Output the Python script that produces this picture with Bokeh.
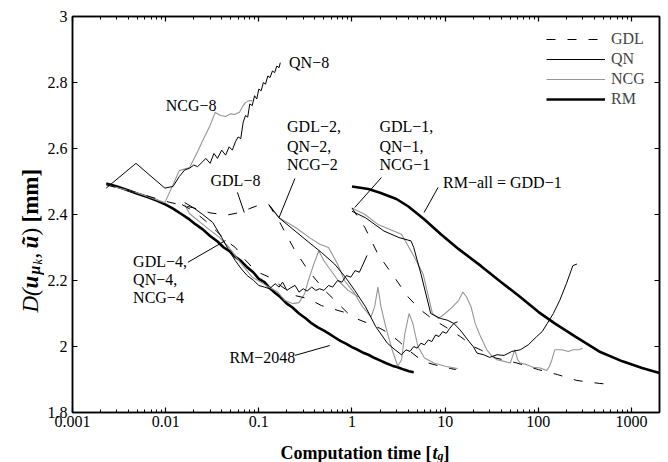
import math
from bokeh.plotting import figure
from bokeh.layouts import row, column
from bokeh.models import (FixedTicker, LogAxis, LinearAxis, Label, Legend, LegendItem,
                          CustomJSTickFormatter, Range1d)
from bokeh.embed import file_html
from bokeh.resources import INLINE

FONT = "Liberation Serif"
GRAY = "#969696"

# ---------------- axis ticks ----------------
x_ticks = [0.001, 0.01, 0.1, 1, 10, 100, 1000]
x_tick_labels = ["0.001", "0.01", "0.1", "1", "10", "100", "1000"]
x_minor = [m * 10.0 ** e for e in range(-3, 4) for m in range(2, 10) if m * 10.0 ** e <= 2000]
y_ticks = [1.8, 2.0, 2.2, 2.4, 2.6, 2.8, 3.0]
y_tick_labels = ["1.8", "2", "2.2", "2.4", "2.6", "2.8", "3"]

# ---------------- series (time [t_g], distance [mm]) ----------------
rm_all_t = [1, 1.5, 2, 3, 4, 6, 9, 14, 24, 40, 64, 100, 150, 250, 450, 800, 1300, 2000]
rm_all_y = [2.485, 2.477, 2.466, 2.447, 2.425, 2.385, 2.34, 2.295, 2.245, 2.195, 2.15, 2.105,
            2.07, 2.03, 1.985, 1.955, 1.935, 1.92]

rm2048_t = [0.0023, 0.003, 0.004, 0.005, 0.0065, 0.008, 0.01, 0.012, 0.015, 0.018, 0.021, 0.025,
            0.03, 0.036, 0.042, 0.048, 0.056, 0.065, 0.075, 0.087, 0.1, 0.115, 0.13, 0.15, 0.17,
            0.2, 0.23, 0.27, 0.32, 0.37, 0.43, 0.5, 0.56, 0.65, 0.75, 0.87, 1.0, 1.15, 1.3, 1.5,
            1.75, 2.0, 2.3, 2.7, 3.1, 3.6, 4.1, 4.6]
rm2048_y = [2.494, 2.485, 2.473, 2.463, 2.452, 2.442, 2.43, 2.418, 2.40, 2.385, 2.37, 2.355,
            2.335, 2.318, 2.30, 2.29, 2.272, 2.258, 2.24, 2.225, 2.205, 2.195, 2.178, 2.162, 2.15,
            2.13, 2.118, 2.10, 2.085, 2.07, 2.058, 2.048, 2.04, 2.028, 2.017, 2.008, 1.998, 1.99,
            1.982, 1.975, 1.965, 1.958, 1.95, 1.942, 1.937, 1.93, 1.925, 1.922]

qn8_t = [0.0023, 0.0048, 0.0098, 0.012, 0.014, 0.016, 0.018, 0.02, 0.022, 0.025, 0.027, 0.03,
         0.033, 0.036, 0.04, 0.044, 0.048, 0.052, 0.056, 0.06, 0.064, 0.068, 0.072, 0.076, 0.08,
         0.085, 0.09, 0.095, 0.1, 0.106, 0.112, 0.118, 0.125, 0.132, 0.14, 0.148, 0.156, 0.165, 0.17]
qn8_y = [2.48, 2.555, 2.48, 2.485, 2.515, 2.535, 2.54, 2.55, 2.545, 2.56, 2.57, 2.555, 2.585, 2.57,
         2.595, 2.58, 2.605, 2.595, 2.62, 2.635, 2.63, 2.68, 2.70, 2.695, 2.735, 2.73, 2.76, 2.75,
         2.78, 2.775, 2.80, 2.795, 2.82, 2.815, 2.835, 2.83, 2.85, 2.845, 2.86]

ncg8_t = [0.0023, 0.005, 0.0098, 0.012, 0.014, 0.018, 0.022, 0.025, 0.03, 0.034, 0.039, 0.044,
          0.05, 0.055, 0.062, 0.068, 0.072, 0.078, 0.085]
ncg8_y = [2.49, 2.465, 2.436, 2.49, 2.533, 2.542, 2.59, 2.624, 2.67, 2.709, 2.70, 2.697, 2.705,
          2.703, 2.71, 2.73, 2.739, 2.745, 2.745]

gdl8_t = [0.0023, 0.005, 0.01, 0.015, 0.02, 0.03, 0.045, 0.06, 0.08, 0.11]
gdl8_y = [2.49, 2.465, 2.44, 2.428, 2.42, 2.405, 2.398, 2.405, 2.418, 2.433]

qn4_t = [0.016, 0.02, 0.025, 0.032, 0.04, 0.048, 0.056, 0.065, 0.075, 0.088, 0.1, 0.115, 0.13,
         0.15, 0.165, 0.18, 0.2, 0.22, 0.245, 0.27, 0.3, 0.33, 0.37, 0.41, 0.45, 0.5, 0.56, 0.62,
         0.7, 0.78, 0.87, 0.97, 1.08, 1.2, 1.32, 1.45]
qn4_y = [2.436, 2.42, 2.40, 2.376, 2.33, 2.29, 2.26, 2.235, 2.215, 2.20, 2.185, 2.18, 2.175, 2.19,
         2.18, 2.195, 2.17, 2.178, 2.185, 2.165, 2.175, 2.168, 2.18, 2.17, 2.175, 2.17, 2.185, 2.18,
         2.2, 2.195, 2.215, 2.21, 2.23, 2.225, 2.25, 2.276]

ncg4_t = [0.016, 0.018, 0.025, 0.038, 0.048, 0.065, 0.085, 0.105, 0.128, 0.16, 0.19, 0.23, 0.27,
          0.31, 0.34, 0.39, 0.44, 0.5, 0.56, 0.71, 0.91, 1.17]
ncg4_y = [2.43, 2.403, 2.37, 2.33, 2.30, 2.25, 2.21, 2.195, 2.18, 2.165, 2.14, 2.13, 2.133, 2.16,
          2.2, 2.25, 2.29, 2.26, 2.24, 2.2, 2.17, 2.15]

gdl4_t = [0.015, 0.02, 0.027, 0.035, 0.045, 0.056, 0.07, 0.085, 0.1, 0.13, 0.17, 0.24, 0.34, 0.47,
          0.6, 0.8, 1.0]
gdl4_y = [2.43, 2.41, 2.38, 2.35, 2.32, 2.30, 2.265, 2.24, 2.224, 2.21, 2.185, 2.155, 2.145, 2.124,
          2.115, 2.105, 2.095]

qn2_t = [0.128, 0.165, 0.245, 0.33, 0.47, 0.65, 0.85, 1.07, 1.4, 1.8, 2.4, 2.9, 3.4, 3.8, 4.2, 4.6,
         5.0, 5.5, 6.0, 6.6, 7.2, 7.9, 8.6, 9.4, 10.3, 11.2, 12.4, 13.6]
qn2_y = [2.43, 2.39, 2.35, 2.32, 2.285, 2.25, 2.21, 2.17, 2.12, 2.06, 2.01, 1.99, 1.975, 1.99,
         1.985, 2.0, 1.995, 2.01, 2.005, 2.02, 2.015, 2.035, 2.03, 2.045, 2.04, 2.055, 2.07, 2.075]

gdl2_t = [0.128, 0.165, 0.245, 0.34, 0.51, 0.71, 0.91, 1.1, 1.5, 2.0, 2.5, 3.2, 4.0, 5.2, 6.6, 8.9,
          11.5, 13]
gdl2_y = [2.43, 2.38, 2.29, 2.23, 2.17, 2.13, 2.10, 2.085, 2.07, 2.055, 2.04, 2.015, 1.99, 1.965,
          1.95, 1.94, 1.933, 1.93]

ncg2_t = [0.128, 0.165, 0.25, 0.35, 0.45, 0.56, 0.7, 0.83, 1.07, 1.3, 1.6, 1.75, 1.9, 2.05, 2.3,
          2.7, 3.1, 3.4, 3.7, 4.1, 4.5, 5.1, 6.0, 7.6, 10, 13.6]
ncg2_y = [2.43, 2.39, 2.36, 2.33, 2.31, 2.30, 2.25, 2.20, 2.16, 2.12, 2.09, 2.12, 2.18, 2.12, 2.06,
          1.99, 1.94, 1.96, 2.04, 2.10, 2.07, 2.0, 1.965, 1.95, 1.94, 1.933]

qn1_t = [1.0, 1.4, 2.2, 3.2, 4.3, 4.6, 5.5, 7.0, 8.9, 10.5, 12.4, 14.5, 17.5, 20, 22, 26, 30, 36,
         43, 52, 64, 78, 96, 110, 125, 145, 170, 200, 235, 260]
qn1_y = [2.41, 2.39, 2.35, 2.33, 2.32, 2.30, 2.22, 2.10, 2.085, 2.08, 2.07, 2.05, 2.02, 2.0, 1.98,
         1.975, 1.967, 1.975, 1.973, 1.985, 1.99, 2.005, 2.03, 2.045, 2.07, 2.1, 2.14, 2.19, 2.245,
         2.25]

gdl1_t = [1.0, 1.38, 1.9, 2.85, 4.0, 5.5, 7.6, 10, 14.6, 20, 24, 35, 59, 100, 160, 260, 458, 620]
gdl1_y = [2.42, 2.36, 2.28, 2.21, 2.15, 2.11, 2.08, 2.06, 2.03, 2.0, 1.99, 1.965, 1.95, 1.93,
          1.915, 1.897, 1.888, 1.885]

ncg1_t = [1.0, 1.38, 1.9, 3.4, 4.7, 5.8, 7.3, 8.5, 10, 12, 14, 15.5, 17, 19, 21, 24, 28, 32, 36,
          43, 50, 53, 56, 60, 64, 75, 88, 105, 123, 132, 140, 150, 180, 210, 235, 270, 300]
ncg1_y = [2.42, 2.40, 2.37, 2.34, 2.27, 2.22, 2.10, 2.085, 2.10, 2.12, 2.14, 2.165, 2.15, 2.12,
          2.07, 2.03, 1.99, 1.97, 1.96, 1.955, 1.95, 1.97, 1.99, 1.96, 1.95, 1.945, 1.937, 1.935,
          1.927, 1.94, 1.96, 1.99, 1.99, 1.985, 1.99, 1.99, 1.995]

# ---------------- annotations ----------------
ann_text = ["QN\u22128", "NCG\u22128", "GDL\u22128",
            "GDL\u22122,", "QN\u22122,", "NCG\u22122",
            "GDL\u22121,", "QN\u22121,", "NCG\u22121",
            "GDL\u22124,", "QN\u22124,", "NCG\u22124",
            "RM\u22122048", "RM\u2212all = GDD\u22121"]
ann_t = [0.211, 0.01, 0.0303, 0.201, 0.201, 0.201, 1.97, 1.97, 1.97,
         0.00447, 0.00447, 0.00447, 0.0483, 9.5]
ann_y = [2.861, 2.730, 2.503, 2.667, 2.606, 2.552, 2.667, 2.606, 2.552,
         2.258, 2.203, 2.148, 1.967, 2.497]

ptr_t0 = [0.0589, 0.244, 2.07, 8.4, 0.0173, 0.244]
ptr_y0 = [2.467, 2.509, 2.512, 2.482, 2.255, 1.973]
ptr_t1 = [0.0698, 0.165, 1.07, 5.94, 0.0439, 0.577]
ptr_y1 = [2.406, 2.391, 2.421, 2.406, 2.321, 2.003]

# ---------------- main figure ----------------
p = figure(width=624, height=434, x_axis_type="log", x_range=(0.001, 2000), y_range=(1.8, 3.0),
           output_backend="svg", toolbar_location=None,
           min_border_left=25, min_border_right=9, min_border_top=16, min_border_bottom=22)
p.grid.visible = False
p.outline_line_color = "black"
p.outline_line_width = 1.5

x_fmt = CustomJSTickFormatter(args=dict(xvals=x_ticks, xlabs=x_tick_labels), code="""
const i = xvals.findIndex(t => Math.abs(Math.log10(t) - Math.log10(tick)) < 1e-6);
return i >= 0 ? xlabs[i] : "";""")
y_fmt = CustomJSTickFormatter(args=dict(yvals=y_ticks, ylabs=y_tick_labels), code="""
const i = yvals.findIndex(t => Math.abs(t - tick) < 1e-6);
return i >= 0 ? ylabs[i] : "";""")


def style_axis(ax, minor=True, labels=True):
    ax.axis_line_width = 1.5
    ax.axis_line_color = "black"
    ax.major_tick_in = 5
    ax.major_tick_out = 0
    ax.major_tick_line_width = 1.2
    ax.minor_tick_in = 3 if minor else 0
    ax.minor_tick_out = 0
    ax.major_label_text_font = FONT
    ax.major_label_text_font_size = "16px" if labels else "8px"
    ax.major_label_text_color = "black"
    ax.major_label_standoff = 3 if labels else 0


p.xaxis[0].ticker = FixedTicker(ticks=x_ticks, minor_ticks=x_minor)
p.xaxis[0].formatter = x_fmt
p.yaxis[0].ticker = FixedTicker(ticks=y_ticks, minor_ticks=[])
p.yaxis[0].formatter = y_fmt
style_axis(p.xaxis[0])
style_axis(p.yaxis[0], minor=False)
p.yaxis[0].major_label_standoff = 5

top_ax = LogAxis(ticker=FixedTicker(ticks=x_ticks, minor_ticks=x_minor),
                 formatter=CustomJSTickFormatter(code="return '';"))
style_axis(top_ax, labels=False)
p.add_layout(top_ax, "above")
right_ax = LinearAxis(ticker=FixedTicker(ticks=y_ticks, minor_ticks=[]),
                      formatter=CustomJSTickFormatter(code="return '';"))
style_axis(right_ax, minor=False, labels=False)
p.add_layout(right_ax, "right")

DASH = "9 12"
r_rm_all = p.line(rm_all_t, rm_all_y, line_color="black", line_width=2.6)
r_rm2048 = p.line(rm2048_t, rm2048_y, line_color="black", line_width=2.6)
r_ncg = None
for t, y in [(ncg8_t, ncg8_y), (ncg4_t, ncg4_y), (ncg2_t, ncg2_y), (ncg1_t, ncg1_y)]:
    r_ncg = p.line(t, y, line_color=GRAY, line_width=1.1)
r_qn = None
for t, y in [(qn8_t, qn8_y), (qn4_t, qn4_y), (qn2_t, qn2_y), (qn1_t, qn1_y)]:
    r_qn = p.line(t, y, line_color="black", line_width=1.0)
r_gdl = None
for t, y in [(gdl8_t, gdl8_y), (gdl4_t, gdl4_y), (gdl2_t, gdl2_y), (gdl1_t, gdl1_y)]:
    r_gdl = p.line(t, y, line_color="black", line_width=1.0, line_dash=DASH)

for a, b, c, d in zip(ptr_t0, ptr_y0, ptr_t1, ptr_y1):
    p.line([a, c], [b, d], line_color="black", line_width=1.0)

for txt, t, y in zip(ann_text, ann_t, ann_y):
    p.add_layout(Label(x=t, y=y, text=txt, text_font=FONT, text_font_size="16px",
                       text_baseline="middle", text_align="left", text_color="black"))

legend = Legend(items=[LegendItem(label="GDL", renderers=[r_gdl]),
                       LegendItem(label="QN", renderers=[r_qn]),
                       LegendItem(label="NCG", renderers=[r_ncg]),
                       LegendItem(label="RM", renderers=[r_rm_all])],
                location=(474, 303), border_line_color=None, background_fill_alpha=0,
                glyph_width=59, glyph_height=20, label_height=20, label_standoff=6,
                spacing=0, padding=0, margin=0, label_text_font=FONT,
                label_text_font_size="16px")
p.add_layout(legend)


def text_panel(w, h):
    f = figure(width=w, height=h, x_range=Range1d(0, 1), y_range=Range1d(0, 1),
               output_backend="svg", toolbar_location=None, min_border=0,
               x_axis_location=None, y_axis_location=None)
    f.grid.visible = False
    f.outline_line_color = None
    return f


# ---------------- y axis title (composed, rotated) ----------------
yfig = text_panel(44, 434)
yl_parts = [("D(", "italic", 23, 30, 100),
            ("u", "bold italic", 23, 30, 124),
            ("\u03bc", "bold italic", 16, 34, 138),
            ("k", "italic", 12, 37, 148),
            (",", "normal", 23, 30, 154),
            ("\u0169", "bold italic", 23, 30, 164),
            (")", "normal", 23, 30, 177),
            ("[mm]", "bold", 23, 30, 190)]
for txt, style, size, sx, sy in yl_parts:
    yfig.add_layout(Label(x=sx, y=sy, x_units="screen", y_units="screen", text=txt,
                          text_font=FONT, text_font_style=style, text_font_size=f"{size}px",
                          angle=math.pi / 2, text_align="left", text_baseline="alphabetic",
                          text_color="black"))

# ---------------- x axis title (composed) ----------------
xfig = text_panel(668, 28)
xl_parts = [("Computation time [", "bold", 18, 431, 10, "right"),
            ("t", "bold italic", 18, 432, 10, "left"),
            ("g", "bold italic", 12, 437, 7, "left"),
            ("]", "bold", 18, 443, 10, "left")]
for txt, style, size, sx, sy, align in xl_parts:
    xfig.add_layout(Label(x=sx, y=sy, x_units="screen", y_units="screen", text=txt,
                          text_font=FONT, text_font_style=style, text_font_size=f"{size}px",
                          text_align=align, text_baseline="alphabetic", text_color="black"))

layout = column(row(yfig, p, spacing=0), xfig, spacing=0)
open("out.html", "w").write(file_html(layout, INLINE))
